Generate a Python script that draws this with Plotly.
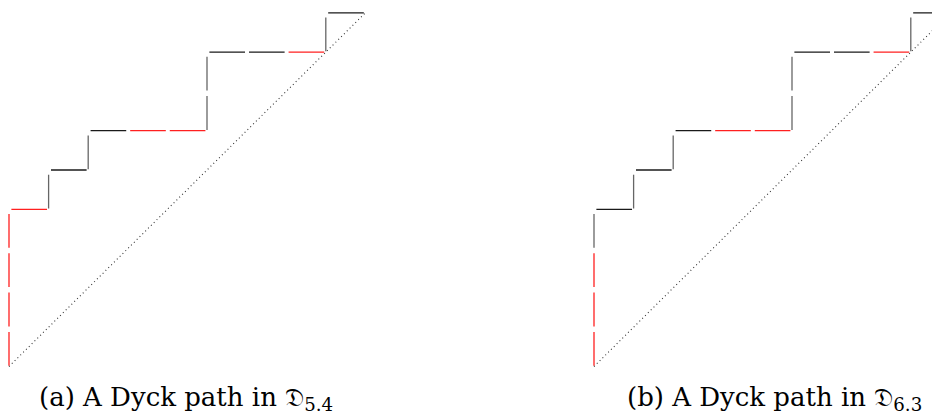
import plotly.graph_objects as go

# Dyck path data: N = up step, E = right step; red flag per step
steps_a = ["N", "N", "N", "N", "E", "N", "E", "N", "E", "E", "E", "N", "N", "E", "E", "E", "N", "E"]
red_a = [1, 1, 1, 1, 1, 0, 0, 0, 0, 1, 1, 0, 0, 0, 0, 1, 0, 0]
steps_b = ["N", "N", "N", "N", "E", "N", "E", "N", "E", "E", "E", "N", "N", "E", "E", "E", "N", "E"]
red_b = [1, 1, 1, 0, 0, 0, 0, 0, 0, 1, 1, 0, 0, 0, 0, 1, 0, 0]
size = 9
captions = ["(a) A Dyck path in 𝔇<sub>5.4</sub>", "(b) A Dyck path in 𝔇<sub>6.3</sub>"]

RED = "#ff2020"
BLACK = "#1a1a1a"
GRAY = "#666666"

fig = go.Figure()


def add_path(steps, reds, xa):
    groups = {(o, r): ([], []) for o in "NE" for r in (0, 1)}
    x, y = 0, 0
    for s, r in zip(steps, reds):
        gx, gy = groups[(s, r)]
        if s == "E":
            gx += [x + 0.06, x + 0.96, None]
            gy += [y, y, None]
            x += 1
        else:
            gx += [x, x, None]
            gy += [y + 0.02, y + 0.88, None]
            y += 1
    for (o, r), (gx, gy) in groups.items():
        if not gx:
            continue
        col = RED if r else (BLACK if o == "E" else GRAY)
        fig.add_trace(go.Scatter(x=gx, y=gy, mode="lines", xaxis=xa, yaxis="y",
                                 line=dict(color=col, width=1.3), hoverinfo="skip",
                                 showlegend=False))
    fig.add_trace(go.Scatter(x=[0, size], y=[0, size], mode="lines", xaxis=xa, yaxis="y",
                             line=dict(color="#333333", width=1.1, dash="1px,3px"),
                             hoverinfo="skip", showlegend=False))


add_path(steps_a, red_a, "x")
add_path(steps_b, red_b, "x2")

# page has an 8px body margin: figure pixel = page pixel - 8
M = 8
W, H = 940 - M, 419 - M
u = 39.6
uy = 39.3
ox_a, ox_b, oy = 9 - M, 594 - M, 366.5 - M

ax_common = dict(visible=False, showgrid=False, zeroline=False, fixedrange=True)
font = dict(family="DejaVu Serif, Liberation Serif, serif", size=26, color="black")
fig.update_layout(
    width=W, height=H,
    margin=dict(l=0, r=0, t=0, b=0),
    paper_bgcolor="white", plot_bgcolor="white",
    xaxis=dict(domain=[0, 362 / W], range=[(0 - ox_a) / u, (362 - ox_a) / u], **ax_common),
    xaxis2=dict(domain=[572 / W, 1], range=[(572 - ox_b) / u, (W - ox_b) / u], **ax_common),
    yaxis=dict(domain=[0, 1], range=[-(H - oy) / uy, oy / uy], **ax_common),
    annotations=[
        dict(text=captions[0], x=(186 - M) / W, y=1 - (398 - M) / H, xref="paper", yref="paper",
             showarrow=False, xanchor="center", yanchor="middle", font=font),
        dict(text=captions[1], x=(774 - M) / W, y=1 - (398 - M) / H, xref="paper", yref="paper",
             showarrow=False, xanchor="center", yanchor="middle", font=font),
    ],
)

fig.write_html("out.html")
